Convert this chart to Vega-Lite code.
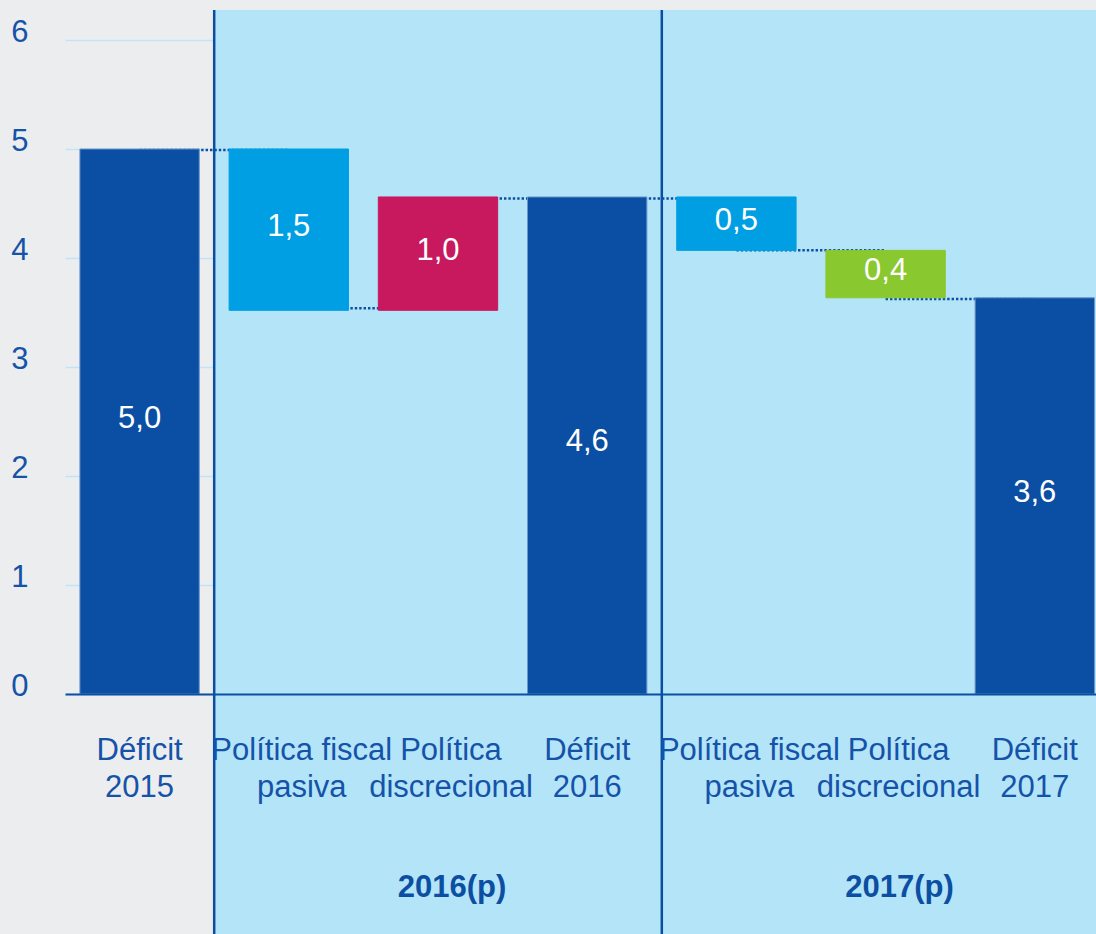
{
  "$schema": "https://vega.github.io/schema/vega-lite/v6.json",
  "width": 1031,
  "height": 654,
  "autosize": {"type": "none"},
  "padding": {"left": 65, "top": 40, "right": 0, "bottom": 240},
  "background": "#ECEDEF",
  "config": {
    "view": {"stroke": null},
    "font": "Liberation Sans",
    "axisY": {
      "grid": true,
      "gridColor": "#BEE5F7",
      "gridWidth": 1.5,
      "domain": false,
      "ticks": false,
      "labelFont": "Liberation Sans",
      "labelFontSize": 31,
      "labelColor": "#1553A9",
      "labelPadding": 37,
      "labelOffset": -8,
      "format": "d"
    },
    "axisX": {
      "domainColor": "#0B4EA2",
      "domainWidth": 2,
      "ticks": false,
      "grid": false,
      "labelFont": "Liberation Sans",
      "labelFontSize": 31,
      "labelColor": "#1553A9",
      "labelPadding": 41,
      "labelLineHeight": 37,
      "labelAngle": 0,
      "labelOverlap": false,
      "labelLimit": 400,
      "labelBound": false
    }
  },
  "datasets": {
    "barras": [
      {"id": "Déficit 2015", "tipo": "Déficit", "inicio": 0, "fin": 5.0, "etiqueta": "5,0"},
      {"id": "Política fiscal pasiva 2016", "tipo": "Política fiscal pasiva", "inicio": 3.52, "fin": 5.0, "etiqueta": "1,5"},
      {"id": "Política discrecional 2016", "tipo": "Política discrecional (aumento)", "inicio": 3.52, "fin": 4.56, "etiqueta": "1,0"},
      {"id": "Déficit 2016", "tipo": "Déficit", "inicio": 0, "fin": 4.56, "etiqueta": "4,6"},
      {"id": "Política fiscal pasiva 2017", "tipo": "Política fiscal pasiva", "inicio": 4.07, "fin": 4.56, "etiqueta": "0,5"},
      {"id": "Política discrecional 2017", "tipo": "Política discrecional (reducción)", "inicio": 3.635, "fin": 4.07, "etiqueta": "0,4"},
      {"id": "Déficit 2017", "tipo": "Déficit", "inicio": 0, "fin": 3.635, "etiqueta": "3,6"}
    ],
    "conectores": [
      {"de": "Déficit 2015", "a": "Política fiscal pasiva 2016", "nivel": 4.99},
      {"de": "Política fiscal pasiva 2016", "a": "Política discrecional 2016", "nivel": 3.54},
      {"de": "Política discrecional 2016", "a": "Déficit 2016", "nivel": 4.545},
      {"de": "Déficit 2016", "a": "Política fiscal pasiva 2017", "nivel": 4.545},
      {"de": "Política fiscal pasiva 2017", "a": "Política discrecional 2017", "nivel": 4.07},
      {"de": "Política discrecional 2017", "a": "Déficit 2017", "nivel": 3.625}
    ],
    "paneles": [
      {"grupo": "2016(p)", "inicio": 1, "fin": 4, "centro": "Política discrecional 2016"},
      {"grupo": "2017(p)", "inicio": 4, "fin": 7, "centro": "Política discrecional 2017"}
    ]
  },
  "resolve": {"scale": {"x": "independent"}},
  "layer": [
    {
      "data": {"name": "paneles"},
      "layer": [
        {
          "mark": {"type": "rect", "color": "#B4E4F8"},
          "encoding": {
            "x": {"field": "inicio", "type": "quantitative", "scale": {"domain": [0, 7], "range": [0, 1044.4], "nice": false, "zero": false}, "axis": null},
            "x2": {"field": "fin"},
            "y": {"datum": 6.275, "type": "quantitative", "scale": {"domain": [0, 6]}, "axis": {"values": [0, 1, 2, 3, 4, 5, 6], "title": null, "zindex": 0}},
            "y2": {"datum": -2.3}
          }
        },
        {
          "mark": {"type": "rule", "color": "#0B4EA2", "strokeWidth": 2.5},
          "encoding": {
            "x": {"field": "inicio", "type": "quantitative"},
            "y": {"datum": 6.275, "type": "quantitative"},
            "y2": {"datum": -2.3}
          }
        }
      ]
    },
    {
      "layer": [
        {
          "data": {"name": "conectores"},
          "mark": {"type": "rule", "color": "#0B4EA2", "strokeWidth": 2.5, "strokeDash": [2.4, 2]},
          "encoding": {
            "x": {"field": "de", "type": "nominal", "axis": {"title": null, "orient": "bottom", "zindex": 2}},
            "x2": {"field": "a"},
            "y": {"field": "nivel", "type": "quantitative"}
          }
        },
        {
          "data": {"name": "barras"},
          "mark": {"type": "bar", "strokeWidth": 1},
          "encoding": {
            "x": {
              "field": "id",
              "type": "nominal",
              "sort": null,
              "scale": {
                "domain": ["Déficit 2015", "Política fiscal pasiva 2016", "Política discrecional 2016", "Déficit 2016", "Política fiscal pasiva 2017", "Política discrecional 2017", "Déficit 2017"],
                "range": [0, 1044.4],
                "paddingInner": 0.2,
                "paddingOuter": 0.1
              },
              "axis": {
                "title": null,
                "orient": "bottom",
                "zindex": 2,
                "labelOffset": {"condition": {"test": "indexof(datum.value, 'Déficit') == 0", "value": 0}, "value": 13},
                "labelExpr": "indexof(datum.value, 'Déficit') == 0 ? split(datum.value, ' ') : (indexof(datum.value, 'fiscal') > 0 ? ['Política fiscal', 'pasiva'] : ['Política', 'discrecional'])"
              }
            },
            "y": {"field": "inicio", "type": "quantitative", "scale": {"domain": [0, 6]}, "axis": {"values": [0, 1, 2, 3, 4, 5, 6], "title": null, "zindex": 0}},
            "y2": {"field": "fin"},
            "color": {
              "field": "tipo",
              "type": "nominal",
              "scale": {
                "domain": ["Déficit", "Política fiscal pasiva", "Política discrecional (aumento)", "Política discrecional (reducción)"],
                "range": ["#0A4FA3", "#009FE3", "#C8185E", "#89C82E"]
              },
              "legend": null
            },
            "stroke": {
              "field": "tipo",
              "type": "nominal",
              "scale": {
                "domain": ["Déficit", "Política fiscal pasiva", "Política discrecional (aumento)", "Política discrecional (reducción)"],
                "range": ["#6B96CD", "#009FE3", "#C8185E", "#89C82E"]
              },
              "legend": null
            }
          }
        },
        {
          "data": {"name": "barras"},
          "transform": [{"fold": ["inicio", "fin"], "as": ["extremo", "valor"]}],
          "mark": {"type": "text", "color": "white", "fontSize": 31, "baseline": "middle", "align": "center", "dy": -3},
          "encoding": {
            "x": {"field": "id", "type": "nominal", "axis": {"title": null, "orient": "bottom", "zindex": 2}},
            "y": {"aggregate": "mean", "field": "valor", "type": "quantitative"},
            "text": {"field": "etiqueta"}
          }
        },
        {
          "data": {"name": "paneles"},
          "mark": {"type": "text", "color": "#0B4EA2", "fontSize": 31, "fontWeight": "bold", "baseline": "middle", "align": "center", "dx": 14},
          "encoding": {
            "x": {"field": "centro", "type": "nominal", "axis": {"title": null, "orient": "bottom", "zindex": 2}},
            "y": {"datum": -1.78, "type": "quantitative"},
            "text": {"field": "grupo"}
          }
        }
      ]
    }
  ]
}
